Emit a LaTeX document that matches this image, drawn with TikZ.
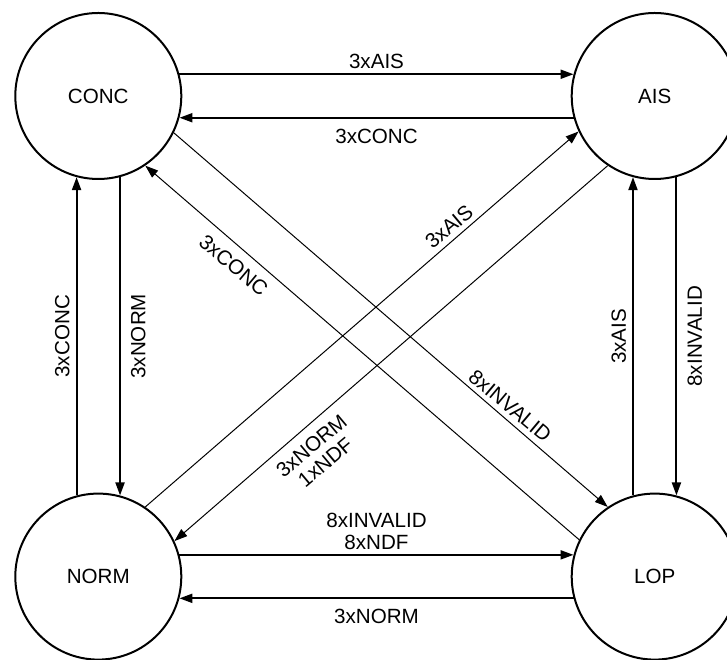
\documentclass[tikz,border=0pt]{standalone}
\usepackage{fontspec}
\setmainfont{Liberation Sans}
\usetikzlibrary{arrows.meta}

\begin{document}
\begin{tikzpicture}[x=1pt, y=1pt,
    state/.style={circle, draw, line width=2pt, minimum size=166pt, inner sep=0pt,
        font=\fontsize{20.6}{24}\selectfont},
    edge/.style={line width=2pt, -{Triangle[length=13pt,width=9pt]}},
    diag/.style={line width=1pt, -{Triangle[length=13pt,width=9pt]}},
    lab/.style={font=\fontsize{20.6}{21.5}\selectfont, align=center}]
    \useasboundingbox (0,0) rectangle (727,660);

    % States
    \node[state] (CONC) at (98.3, 564) {CONC};
    \node[state] (AIS)  at (654.7, 564) {AIS};
    \node[state] (NORM) at (98.3, 83.4) {NORM};
    \node[state] (LOP)  at (654.7, 83.4) {LOP};

    % Top pair
    \draw[edge] (CONC.15) -- (AIS.165)
        node[lab, midway, anchor=south, inner sep=4.5pt] {3xAIS};
    \draw[edge] (AIS.195) -- (CONC.345)
        node[lab, midway, anchor=north, inner sep=10pt] {3xCONC};

    % Bottom pair
    \draw[edge] (NORM.15) -- (LOP.165)
        node[lab, midway, anchor=south, inner sep=4.5pt] {8xINVALID\\8xNDF};
    \draw[edge] (LOP.195) -- (NORM.345)
        node[lab, midway, anchor=north, inner sep=10pt] {3xNORM};

    % Left pair
    \draw[edge] (NORM.105) -- (CONC.255)
        node[lab, midway, rotate=90, anchor=south, inner sep=6pt] {3xCONC};
    \draw[edge] (CONC.285) -- (NORM.75)
        node[lab, midway, rotate=90, anchor=north, inner sep=10pt] {3xNORM};

    % Right pair
    \draw[edge] (LOP.105) -- (AIS.255)
        node[lab, midway, rotate=90, anchor=south, inner sep=6pt] {3xAIS};
    \draw[edge] (AIS.285) -- (LOP.75)
        node[lab, midway, rotate=90, anchor=north, inner sep=10pt] {8xINVALID};

    % Diagonals
    \draw[diag] (CONC.334.4) -- (LOP.124)
        node[lab, pos=0.756, rotate=-40, anchor=south, inner sep=5pt] {8xINVALID};
    \draw[diag] (LOP.154.4) -- (CONC.304)
        node[lab, pos=0.77, rotate=-40, anchor=north, inner sep=10pt] {3xCONC};
    \draw[diag] (NORM.56) -- (AIS.205.6)
        node[lab, pos=0.72, rotate=40, anchor=south, inner sep=5pt] {3xAIS};
    \draw[diag] (AIS.236) -- (NORM.25.6)
        node[lab, pos=0.71, rotate=40, anchor=north, inner sep=10pt] {3xNORM\\1xNDF};
\end{tikzpicture}
\end{document}
